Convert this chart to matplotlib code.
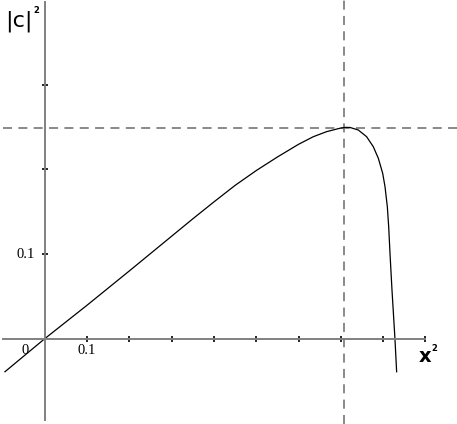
import numpy as np
import matplotlib
matplotlib.use("Agg")
import matplotlib.pyplot as plt

# curve |c|^2 against x^2
x2 = [-0.094, 0.0, 0.1, 0.2, 0.25, 0.3, 0.35, 0.4, 0.45, 0.5,
      0.55, 0.6, 0.635, 0.6667, 0.698, 0.71, 0.7218, 0.7414, 0.761,
      0.7768, 0.7887, 0.799, 0.8045, 0.810, 0.8132, 0.8163, 0.821, 0.828, 0.832]
c2 = [-0.039, 0.0, 0.0395, 0.080, 0.1005, 0.121, 0.1415, 0.1615, 0.181, 0.1985,
      0.2145, 0.2295, 0.2385, 0.2445, 0.2485, 0.2495, 0.2494, 0.2464, 0.2385,
      0.2267, 0.213, 0.1953, 0.1795, 0.1558, 0.1322, 0.1008, 0.0575, 0.0, -0.039]

peak_x = 0.7075
peak_y = 0.249

xticks = [0.1, 0.2, 0.3, 0.4, 0.5, 0.6, 0.7, 0.8, 0.9]
yticks = [0.1, 0.2, 0.3]

fig = plt.figure(figsize=(4.57, 4.24), dpi=100)
ax = fig.add_axes([0, 0, 1, 1])
ax.set_xlim(-0.1057, 0.9747)
ax.set_ylim(-0.1007, 0.3999)

axis_col = "#808080"
for side in ("top", "right"):
    ax.spines[side].set_visible(False)
ax.spines["left"].set_position(("data", 0))
ax.spines["bottom"].set_position(("data", 0))
ax.spines["left"].set_bounds(-0.096, 0.397)
ax.spines["bottom"].set_bounds(-0.099, 0.9)
for side in ("left", "bottom"):
    ax.spines[side].set_color(axis_col)
    ax.spines[side].set_linewidth(1.4)

ax.set_xticks(xticks)
ax.set_yticks(yticks)
ax.set_xticklabels([])
ax.set_yticklabels([])
ax.tick_params(direction="inout", length=5, width=1.2, color="black")

# dashed guides through the maximum
ax.axvline(peak_x, color=axis_col, lw=1.3, ls=(0, (5, 3.5)))
ax.plot([-0.099, 0.9747], [peak_y, peak_y], color=axis_col, lw=1.3, ls=(0, (5, 3.5)))

ax.plot(x2, c2, color="black", lw=0.9, solid_joinstyle="round")

serif = "Liberation Serif"
ax.text(0.1, -0.0065, "0.1", family=serif, fontsize=10.5, ha="center", va="top")
ax.text(-0.023, 0.1, "0.1", family=serif, fontsize=10.5, ha="right", va="center")
ax.text(-0.047, -0.0065, "0", family=serif, fontsize=10.5, ha="center", va="top")

ax.text(-0.094, 0.375, "|c|", family="DejaVu Sans", fontsize=16, ha="left", va="center")
ax.text(-0.026, 0.387, "2", family="DejaVu Sans", fontsize=6, fontweight="bold", ha="left", va="center")
ax.text(0.884, -0.0095, "x", family="DejaVu Sans", fontsize=14, fontweight="bold", ha="left", va="top")
ax.text(0.913, -0.0116, "2", family="DejaVu Sans", fontsize=6, fontweight="bold", ha="left", va="center")

fig.savefig("out.png", dpi=100)
